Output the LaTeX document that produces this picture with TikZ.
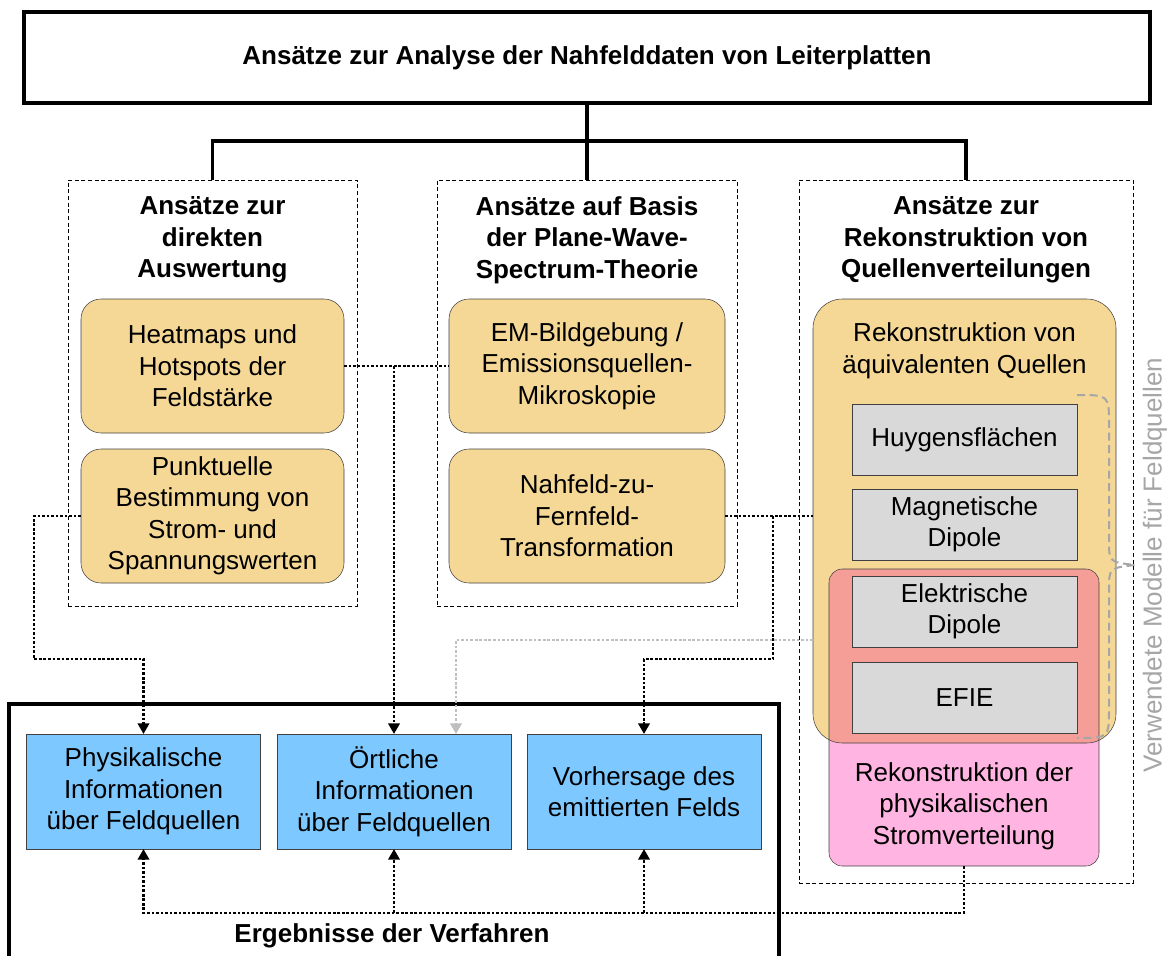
\documentclass[tikz,border=0pt]{standalone}
\usepackage{fontspec}
\setmainfont{Liberation Sans}
\usetikzlibrary{arrows.meta}
\definecolor{feldgelb}{RGB}{245,216,150}
\definecolor{feldgrau}{RGB}{217,217,217}
\definecolor{feldrosa}{RGB}{255,180,225}
\definecolor{feldrot}{RGB}{245,158,152}
\definecolor{feldblau}{RGB}{125,200,255}
\definecolor{klammergrau}{RGB}{166,166,166}
\definecolor{pfeilgrau}{RGB}{191,191,191}

\begin{document}
\begin{tikzpicture}[x=0.75pt,y=-0.75pt,>={Triangle[length=8pt,width=8.5pt]},
  every node/.style={font=\fontsize{19.5pt}{23.6pt}\selectfont,align=center,inner sep=0pt,outer sep=0pt},
  heading/.style={font=\fontsize{19.5pt}{23.6pt}\selectfont\bfseries},
  colbox/.style={draw,densely dashed,line width=0.7pt},
  ybox/.style={draw=black!75,fill=feldgelb,rounded corners=15pt,minimum height=100.5pt},
  gbox/.style={draw=black!75,fill=feldgrau,minimum width=168.75pt,minimum height=53.25pt},
  ergbox/.style={draw=black!75,fill=feldblau,minimum width=175.5pt,minimum height=86.25pt},
  conn/.style={line width=2.2pt,dash pattern=on 2pt off 1.4pt},
  gconn/.style={conn,draw=pfeilgrau}]
  \useasboundingbox (0,0) rectangle (1170,956);

  % Titel und Baum
  \node[draw,line width=3pt,heading,minimum width=844.5pt,minimum height=68.25pt] (titel) at (587,57.5) {Ansätze zur Analyse der Nahfelddaten von Leiterplatten};
  \node[colbox,minimum width=216.75pt,minimum height=319.5pt] (spalte1) at (212.5,393) {};
  \node[colbox,minimum width=225pt,minimum height=319.5pt] (spalte2) at (587,393) {};
  \node[colbox,minimum width=250.5pt,minimum height=527.25pt] (spalte3) at (966,531.5) {};
  \draw[line width=2.6pt] (titel.south) -- (587,141) coordinate (gabel) -- (spalte2.north)
    (spalte1.north) |- (gabel) -| (spalte3.north);
  \node[heading] (kopf1) at (212.5,240) {Ansätze zur\\direkten\\Auswertung};
  \node[heading] (kopf2) at (587,240) {Ansätze auf Basis\\der Plane-Wave-\\Spectrum-Theorie};
  \node[heading] (kopf3) at (966,240) {Ansätze zur\\Rekonstruktion von\\Quellenverteilungen};

  % Verfahren
  \node[ybox,minimum width=197.25pt] (heatmap) at (212.5,366) {Heatmaps und\\Hotspots der\\Feldstärke};
  \node[ybox,minimum width=197.25pt] (punktuell) at (212.5,516) {Punktuelle\\Bestimmung von\\Strom- und\\Spannungswerten};
  \node[ybox,minimum width=207pt] (bildgebung) at (587,366) {EM-Bildgebung /\\Emissionsquellen-\\Mikroskopie};
  \node[ybox,minimum width=207pt] (nfff) at (587,516) {Nahfeld-zu-\\Fernfeld-\\Transformation};

  % Quellenrekonstruktion
  \node[fill=feldgelb,rounded corners=22pt,minimum width=227.25pt,minimum height=333pt] (aequivalent) at (964.5,521) {};
  \node[fill=feldrosa,rounded corners=10pt,minimum width=202.5pt,minimum height=222.75pt] (physstrom) at (964,717.5) {};
  \begin{scope}
    \clip[rounded corners=22pt] (aequivalent.south west) rectangle (aequivalent.north east);
    \fill[feldrot,rounded corners=10pt] (physstrom.south west) rectangle (physstrom.north east);
  \end{scope}
  \draw[black!75,rounded corners=22pt] (aequivalent.south west) rectangle (aequivalent.north east);
  \draw[black!75,rounded corners=10pt] (physstrom.south west) rectangle (physstrom.north east);
  \node (aeqtext) at (964.5,351) {Rekonstruktion von\\äquivalenten Quellen};
  \node (stromtext) at (964,806) {Rekonstruktion der\\physikalischen\\Stromverteilung};
  \node[gbox] (huygens) at (964.5,439.5) {Huygensflächen};
  \node[gbox] (magdipol) at (964.5,524.5) {Magnetische\\Dipole};
  \node[gbox] (eldipol) at (964.5,611.5) {Elektrische\\Dipole};
  \node[gbox] (efie) at (964.5,698) {EFIE};
  \draw[klammergrau,line width=1.5pt,dash pattern=on 6pt off 3.5pt] (1077,395) .. controls (1109,395) .. (1109,425) -- (1109,540)
    .. controls (1109,562) .. (1135,565) .. controls (1109,568) .. (1109,590) -- (1109,708) .. controls (1109,738) .. (1077,738);
  \node[text=klammergrau,rotate=90] (modelle) at (1155,565) {Verwendete Modelle für Feldquellen};

  % Ergebnisse
  \draw[line width=3pt] (9,956) -- (9,704) -- (779,704) -- (779,956);
  \node[heading] (ergebnisse) at (392,936) {Ergebnisse der Verfahren};
  \node[ergbox] (physinfo) at (143.5,791.5) {Physikalische\\Informationen\\über Feldquellen};
  \node[ergbox] (ortinfo) at (394,791.5) {Örtliche\\Informationen\\über Feldquellen};
  \node[ergbox] (vorhersage) at (644,791.5) {Vorhersage des\\emittierten Felds};

  % Verbindungen
  \draw[conn] (heatmap.east) -- (bildgebung.west);
  \draw[conn,->] (ortinfo.north |- heatmap.east) -- (ortinfo.north);
  \draw[conn,->] (punktuell.west) -| (34,659) -| (physinfo.north);
  \draw[conn] (nfff.east) -- (nfff.east -| aequivalent.west);
  \draw[conn,->] ([xshift=36pt]nfff.east) |- (vorhersage.north |- 0,659) -- (vorhersage.north);
  \draw[gconn,->] (aequivalent.west |- 0,640) -| ([xshift=46.5pt]ortinfo.north);
  \draw[conn,->] (physstrom.south) |- (physinfo.south |- 0,913) -- (physinfo.south);
  \draw[conn,->] (ortinfo.south |- 0,913) -- (ortinfo.south);
  \draw[conn,->] (vorhersage.south |- 0,913) -- (vorhersage.south);
\end{tikzpicture}
\end{document}
